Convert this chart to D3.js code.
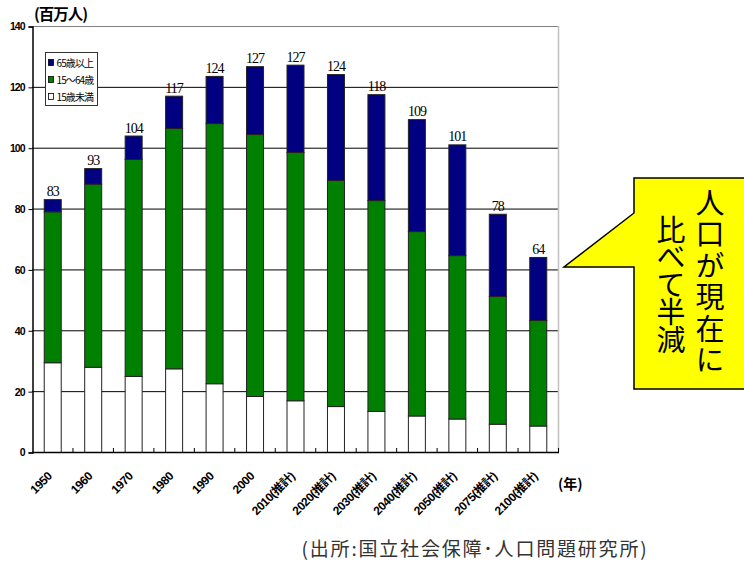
<!DOCTYPE html>
<html>
<head>
<meta charset="utf-8">
<script src="https://cdn.jsdelivr.net/npm/d3@7"></script>
<style>
  html, body { margin: 0; padding: 0; background: #fff; }
  svg { display: block; }
</style>
</head>
<body>
<svg id="chart" width="744" height="561"></svg>
<script>
// Population by age group, millions
const years = ["1950", "1960", "1970", "1980", "1990", "2000", "2010(推計)", "2020(推計)",
               "2030(推計)", "2040(推計)", "2050(推計)", "2075(推計)", "2100(推計)"];
const under15 = [29.5, 28.0, 25.0, 27.5, 22.6, 18.4, 17.0, 15.1, 13.5, 12.0, 11.0, 9.3, 8.7];
const age15to64 = [49.6, 60.2, 71.3, 79.0, 85.5, 86.1, 81.6, 74.3, 69.3, 60.6, 53.7, 42.0, 34.7];
const over65 = [4.0, 5.1, 7.7, 10.6, 15.5, 22.3, 28.7, 34.8, 34.8, 36.8, 36.4, 27.0, 20.7];
const yTicks = [0, 20, 40, 60, 80, 100, 120, 140];
const seriesNames = ["65歳以上", "15～64歳", "15歳未満"];

const svg = d3.select("#chart");
const plotL = 32, plotR = 558, plotT = 26, plotB = 452;

const x = d3.scaleBand().domain(years).range([plotL, plotR])
  .paddingInner(0.58).paddingOuter(0.29);
const y = d3.scaleLinear().domain([0, 140]).range([plotB, plotT]);

const rows = years.map((yr, i) => ({ year: yr, u15: under15[i], w: age15to64[i], o65: over65[i] }));
const stack = d3.stack().keys(["u15", "w", "o65"]);
const layers = stack(rows);
const colors = { u15: "#ffffff", w: "#008000", o65: "#000080" };

// horizontal gridlines (behind bars)
svg.append("g").selectAll("line")
  .data(yTicks.filter(t => t > 0 && t < 140))
  .join("line")
  .attr("x1", plotL).attr("x2", plotR)
  .attr("y1", d => y(d) + 0.5).attr("y2", d => y(d) + 0.5)
  .attr("stroke", "#000").attr("stroke-width", 1);

// top and right frame
svg.append("line").attr("x1", plotL).attr("x2", plotR)
  .attr("y1", y(140) + 0.5).attr("y2", y(140) + 0.5)
  .attr("stroke", "#808080").attr("stroke-width", 1.2);
svg.append("line").attr("x1", plotR + 0.5).attr("x2", plotR + 0.5)
  .attr("y1", y(140)).attr("y2", plotB)
  .attr("stroke", "#c0c0c0").attr("stroke-width", 1.5);

// stacked bars
svg.append("g").selectAll("g")
  .data(layers)
  .join("g")
  .attr("fill", d => colors[d.key])
  .selectAll("rect")
  .data(d => d)
  .join("rect")
  .attr("x", d => x(d.data.year) + 0.5)
  .attr("y", d => y(d[1]) + 0.5)
  .attr("width", x.bandwidth())
  .attr("height", d => y(d[0]) - y(d[1]))
  .attr("stroke", "#222")
  .attr("stroke-width", 1);

// total labels
svg.append("g").selectAll("text")
  .data(rows)
  .join("text")
  .attr("x", d => x(d.year) + x.bandwidth() / 2 + 0.5)
  .attr("y", d => y(d.u15 + d.w + d.o65) - 3)
  .attr("text-anchor", "middle")
  .attr("font-family", "Liberation Serif, Times New Roman, serif")
  .attr("font-size", 14)
  .attr("letter-spacing", -1)
  .attr("fill", "#000")
  .text(d => Math.round(d.u15 + d.w + d.o65));

// y axis
const yAxis = d3.axisLeft(y).tickValues(yTicks).tickSize(4).tickPadding(4);
const gy = svg.append("g").attr("transform", `translate(${plotL + 0.5},0.5)`).call(yAxis);
gy.select(".domain").attr("stroke", "#000").attr("stroke-width", 1.5);
gy.selectAll(".tick line").attr("stroke", "#000");
gy.selectAll(".tick text")
  .attr("font-family", "Liberation Sans, Arial, sans-serif")
  .attr("font-size", 10.5).attr("font-weight", "bold")
  .attr("letter-spacing", -1).attr("fill", "#000");

// x axis baseline with inward ticks between categories
svg.append("line").attr("x1", plotL).attr("x2", plotR + 1)
  .attr("y1", plotB + 0.5).attr("y2", plotB + 0.5)
  .attr("stroke", "#000").attr("stroke-width", 1.5);
svg.append("g").selectAll("line")
  .data(d3.range(1, years.length + 1))
  .join("line")
  .attr("x1", i => plotL + i * x.step() + 0.5).attr("x2", i => plotL + i * x.step() + 0.5)
  .attr("y1", plotB).attr("y2", plotB - 4)
  .attr("stroke", "#000");

// category labels, rotated
svg.append("g").selectAll("text")
  .data(years)
  .join("text")
  .attr("transform", d => `translate(${x(d) + x.bandwidth() / 2 + 0.5},${plotB + 25}) rotate(-45)`)
  .attr("text-anchor", "end")
  .attr("font-family", "Liberation Sans, Arial, 'Noto Sans CJK JP', sans-serif")
  .attr("font-size", 12).attr("font-weight", "bold")
  .attr("letter-spacing", -0.5)
  .attr("fill", "#000")
  .text(d => d);

// unit labels
svg.append("text").attr("x", 34).attr("y", 20)
  .attr("font-family", "'Noto Sans CJK JP', sans-serif")
  .attr("font-size", 15.5).attr("font-weight", "bold").attr("letter-spacing", -1)
  .text("(百万人)");
svg.append("text").attr("x", 558).attr("y", 489)
  .attr("font-family", "'Noto Sans CJK JP', sans-serif")
  .attr("font-size", 14).attr("font-weight", "bold")
  .text("(年)");

// legend
const legend = svg.append("g").attr("transform", "translate(45.5,52.5)");
legend.append("rect").attr("width", 52).attr("height", 53)
  .attr("fill", "#fff").attr("stroke", "#333").attr("stroke-width", 1);
const legendColors = [colors.o65, colors.w, colors.u15];
seriesNames.forEach((name, i) => {
  const g = legend.append("g").attr("transform", `translate(3,${8 + i * 17})`);
  g.append("rect").attr("x", 0).attr("y", -1).attr("width", 5).attr("height", 6)
    .attr("fill", legendColors[i]).attr("stroke", "#000").attr("stroke-width", 0.8);
  g.append("text").attr("x", 8).attr("y", 6.5)
    .attr("font-family", "'Noto Sans CJK JP', sans-serif")
    .attr("font-size", 10).attr("letter-spacing", -0.9)
    .text(name);
});

// callout
const callout = [[634, 178], [760, 178], [760, 389], [634, 389], [634, 267], [564, 267], [634, 213]];
svg.append("path")
  .attr("d", d3.line()(callout) + "Z")
  .attr("fill", "#ffff00").attr("stroke", "#000").attr("stroke-width", 1.5);
svg.append("text")
  .attr("x", 710).attr("y", 188)
  .style("writing-mode", "vertical-rl")
  .attr("font-family", "'Noto Sans CJK JP', sans-serif").attr("font-size", 29)
  .attr("letter-spacing", 2.5)
  .text("人口が現在に");
svg.append("text")
  .attr("x", 671).attr("y", 215)
  .style("writing-mode", "vertical-rl")
  .attr("font-family", "'Noto Sans CJK JP', sans-serif").attr("font-size", 29)
  .attr("letter-spacing", -1.5)
  .text("比べて半減");

// source
svg.append("text").attr("x", 475).attr("y", 556)
  .attr("text-anchor", "middle")
  .attr("font-family", "'Noto Sans CJK JP', sans-serif")
  .attr("font-size", 19).attr("letter-spacing", 1.8).attr("fill", "#333")
  .text("(出所:国立社会保障･人口問題研究所)");
</script>
</body>
</html>
